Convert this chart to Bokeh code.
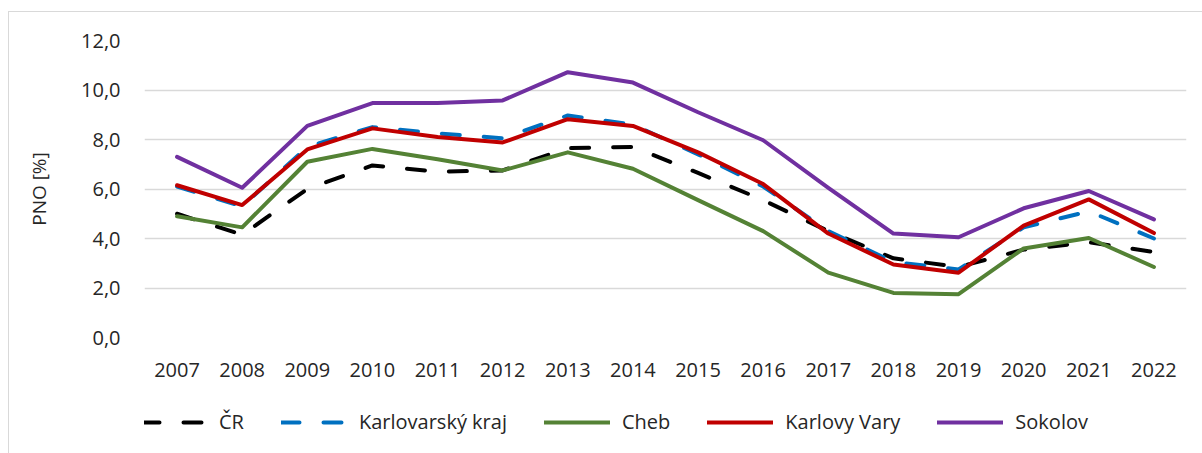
from bokeh.plotting import figure
from bokeh.layouts import column
from bokeh.models import FactorRange, Range1d, FixedTicker, Legend, LegendItem
from bokeh.embed import file_html
from bokeh.resources import INLINE

years = [str(y) for y in range(2007, 2023)]
cr = [5.0, 4.15, 6.0, 6.95, 6.7, 6.75, 7.65, 7.7, 6.65, 5.55, 4.3, 3.2, 2.85, 3.55, 3.85, 3.45]
karlovarsky_kraj = [6.1, 5.3, 7.7, 8.5, 8.25, 8.05, 8.97, 8.6, 7.4, 6.1, 4.3, 3.05, 2.75, 4.45, 5.1, 4.0]
cheb = [4.9, 4.45, 7.1, 7.62, 7.2, 6.75, 7.48, 6.82, 5.55, 4.3, 2.62, 1.8, 1.75, 3.6, 4.02, 2.85]
karlovy_vary = [6.15, 5.35, 7.6, 8.45, 8.1, 7.88, 8.82, 8.55, 7.48, 6.2, 4.2, 2.95, 2.62, 4.52, 5.58, 4.22]
sokolov = [7.3, 6.05, 8.55, 9.47, 9.47, 9.58, 10.72, 10.3, 9.1, 7.97, 6.05, 4.2, 4.05, 5.22, 5.92, 4.77]

series_names = ["ČR", "Karlovarský kraj", "Cheb", "Karlovy Vary", "Sokolov"]
series_values = [cr, karlovarsky_kraj, cheb, karlovy_vary, sokolov]
series_colors = ["#000000", "#0070C0", "#548235", "#C00000", "#7030A0"]
series_dash = ["18 24", "18 24", "solid", "solid", "solid"]

y_ticks = [0, 2, 4, 6, 8, 10, 12]
y_tick_labels = ["0,0", "2,0", "4,0", "6,0", "8,0", "10,0", "12,0"]

FONT = "Open Sans"
TXT = "#262626"
GRID = "#D9D9D9"

border_main = ("linear-gradient(#d9d9d9,#d9d9d9) 8px 11px / 1px 100% no-repeat, "
               "linear-gradient(#d9d9d9,#d9d9d9) 8px 11px / 100% 1px no-repeat, white")
border_leg = "linear-gradient(#d9d9d9,#d9d9d9) 8px 0px / 1px 100% no-repeat, white"

# main chart
p = figure(width=1202, height=385, output_backend="svg", toolbar_location=None,
           x_range=FactorRange(*years), y_range=Range1d(0, 12),
           min_border_left=144, min_border_right=16, min_border_top=40, min_border_bottom=48,
           styles={"background": border_main})
p.outline_line_color = None
p.background_fill_color = "white"
p.border_fill_color = None

for name, vals, col, dash in zip(series_names, series_values, series_colors, series_dash):
    p.line(years, vals, line_color=col, line_width=4, line_dash=dash,
           line_join="round", line_cap="round")

p.xgrid.grid_line_color = None
p.ygrid.grid_line_color = GRID
p.ygrid.grid_line_width = 1.5
p.yaxis.ticker = FixedTicker(ticks=y_ticks)
p.yaxis.major_label_overrides = {t: l for t, l in zip(y_ticks, y_tick_labels)}

for ax in (p.xaxis[0], p.yaxis[0]):
    ax.axis_line_color = None
    ax.major_tick_line_color = None
    ax.minor_tick_line_color = None
    ax.major_label_text_font = FONT
    ax.major_label_text_font_size = "20px"
    ax.major_label_text_color = TXT

p.xaxis.major_label_standoff = 19
p.yaxis.major_label_standoff = 18
p.yaxis.axis_label = "PNO [%]"
p.yaxis.axis_label_text_font = FONT
p.yaxis.axis_label_text_font_size = "19px"
p.yaxis.axis_label_text_font_style = "normal"
p.yaxis.axis_label_text_color = TXT
p.yaxis.axis_label_standoff = 26

# legend strip (same series, drawn outside its visible range; only the legend shows)
lg = figure(width=1202, height=68, output_backend="svg", toolbar_location=None,
            x_range=FactorRange(*years), y_range=Range1d(100, 101),
            x_axis_location=None, y_axis_location=None,
            min_border=0, styles={"background": border_leg})
lg.outline_line_color = None
lg.background_fill_color = None
lg.border_fill_color = None
lg.grid.grid_line_color = None

items = []
for name, vals, col, dash in zip(series_names, series_values, series_colors, series_dash):
    r = lg.line(years, vals, line_color=col, line_width=4, line_dash=dash,
                line_join="round", line_cap="round")
    items.append(LegendItem(label=name, renderers=[r]))

legend = Legend(items=items, orientation="horizontal", location=(-3, 18),
                glyph_width=66, glyph_height=24, label_height=24, label_standoff=12,
                spacing=37, padding=0, margin=0, border_line_color=None,
                background_fill_alpha=0,
                label_text_font=FONT, label_text_font_size="20px", label_text_color=TXT)
lg.add_layout(legend, "center")

layout = column(p, lg, spacing=0)
open("out.html", "w").write(file_html(layout, INLINE))
